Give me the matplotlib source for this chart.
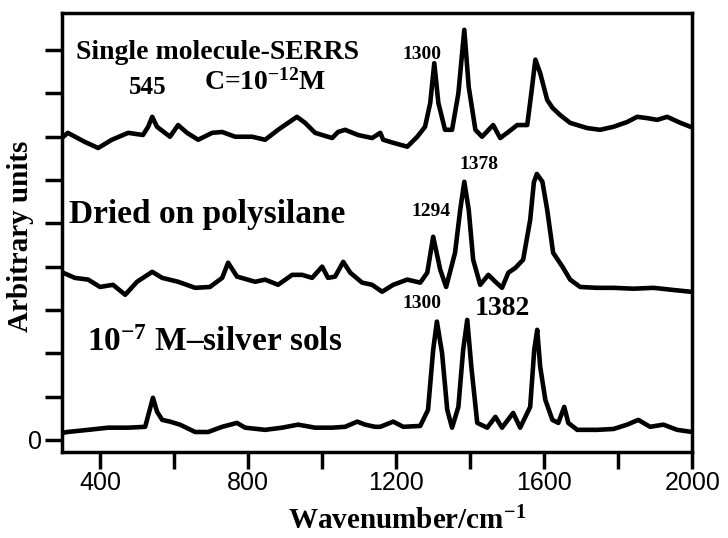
import numpy as np
import matplotlib.pyplot as plt

# Spectra: wavenumber (cm-1) and offset intensity (arb. units)
sm_wn = [297, 313, 359, 395, 432, 476, 516, 530, 541, 554, 589, 611, 635, 665, 703, 730,
         765, 811, 846, 881, 908, 932, 954, 981, 1027, 1043, 1062, 1097, 1135, 1157, 1165,
         1192, 1230, 1257, 1278, 1292, 1303, 1314, 1332, 1351, 1368, 1384, 1396, 1414, 1432,
         1462, 1481, 1500, 1527, 1554, 1565, 1576, 1589, 1608, 1622, 1643, 1670, 1716, 1751,
         1787, 1824, 1851, 1878, 1905, 1932, 1968, 1995]
sm_int = [6.97, 7.09, 6.88, 6.74, 6.93, 7.09, 7.04, 7.23, 7.46, 7.23, 7.00, 7.27, 7.09, 6.93,
          7.09, 7.11, 7.00, 7.00, 6.93, 7.16, 7.32, 7.46, 7.32, 7.09, 6.97, 7.11, 7.16, 7.04,
          6.97, 7.09, 6.93, 6.86, 6.77, 7.00, 7.23, 7.78, 8.70, 7.78, 7.16, 7.16, 8.00, 9.47,
          8.15, 7.16, 7.00, 7.27, 6.97, 7.09, 7.27, 7.27, 8.00, 8.78, 8.47, 7.85, 7.67, 7.50,
          7.32, 7.20, 7.16, 7.23, 7.34, 7.46, 7.43, 7.39, 7.46, 7.32, 7.23]

ps_wn = [300, 332, 368, 400, 435, 468, 500, 541, 568, 611, 657, 697, 730, 746, 770, 819,
         846, 881, 919, 946, 973, 1000, 1016, 1035, 1057, 1076, 1108, 1135, 1162, 1192, 1230,
         1265, 1284, 1300, 1319, 1335, 1359, 1373, 1384, 1396, 1408, 1427, 1449, 1468, 1486,
         1503, 1522, 1543, 1562, 1572, 1580, 1595, 1608, 1624, 1649, 1670, 1697, 1743, 1787,
         1841, 1895, 1949, 1995]
ps_int = [3.86, 3.74, 3.70, 3.53, 3.58, 3.35, 3.65, 3.88, 3.74, 3.65, 3.51, 3.53, 3.74, 4.09,
          3.77, 3.65, 3.70, 3.58, 3.81, 3.81, 3.74, 4.00, 3.74, 3.77, 4.11, 3.86, 3.63, 3.58,
          3.42, 3.58, 3.70, 3.63, 3.86, 4.69, 3.93, 3.53, 4.32, 5.31, 5.96, 5.31, 4.16, 3.58,
          3.81, 3.65, 3.51, 3.86, 3.97, 4.16, 5.08, 5.95, 6.14, 5.96, 5.31, 4.32, 4.00, 3.70,
          3.53, 3.51, 3.51, 3.49, 3.51, 3.46, 3.42]

ag_wn = [300, 311, 368, 422, 476, 522, 532, 543, 554, 568, 589, 616, 657, 692, 730, 770,
         792, 846, 892, 935, 981, 1027, 1062, 1095, 1116, 1143, 1157, 1192, 1219, 1265, 1286,
         1300, 1310, 1324, 1338, 1351, 1368, 1381, 1392, 1403, 1419, 1446, 1468, 1486, 1516,
         1535, 1562, 1573, 1581, 1589, 1603, 1622, 1638, 1654, 1665, 1689, 1743, 1787, 1824,
         1854, 1886, 1922, 1959, 2000]
ag_int = [0.16, 0.18, 0.23, 0.28, 0.28, 0.30, 0.62, 0.97, 0.65, 0.46, 0.42, 0.35, 0.18, 0.18,
          0.30, 0.39, 0.28, 0.23, 0.28, 0.35, 0.28, 0.28, 0.30, 0.42, 0.35, 0.30, 0.30, 0.42,
          0.30, 0.32, 0.69, 2.08, 2.73, 2.00, 0.69, 0.28, 0.76, 2.08, 2.77, 1.69, 0.39, 0.28,
          0.53, 0.28, 0.62, 0.28, 0.76, 2.08, 2.54, 1.69, 0.92, 0.46, 0.39, 0.76, 0.39, 0.23,
          0.23, 0.25, 0.35, 0.46, 0.30, 0.35, 0.23, 0.18]

x_ticks = [400, 600, 800, 1000, 1200, 1400, 1600, 1800, 2000]
x_labels = ['400', '', '800', '', '1200', '', '1600', '', '2000']
y_ticks = list(range(10))
y_labels = ['0'] + [''] * 9

serif = 'Liberation Serif'
plt.rcParams['mathtext.fontset'] = 'custom'
plt.rcParams['mathtext.rm'] = 'Liberation Serif:bold'
plt.rcParams['mathtext.bf'] = 'Liberation Serif:bold'
plt.rcParams['mathtext.it'] = 'Liberation Serif:bold'

fig = plt.figure(figsize=(7.28, 5.38), dpi=100)
ax = fig.add_axes([0.085, 0.160, 0.866, 0.816])

for wn, inten in [(sm_wn, sm_int), (ps_wn, ps_int), (ag_wn, ag_int)]:
    ax.plot(wn, inten, color='black', lw=3.3, solid_joinstyle='round')

ax.set_xlim(297, 2000)
ax.set_ylim(-0.28, 9.86)
ax.set_xticks(x_ticks)
ax.set_xticklabels(x_labels, fontfamily='Liberation Sans', fontsize=18)
ax.set_yticks(y_ticks)
ax.set_yticklabels(y_labels, fontfamily='Liberation Sans', fontsize=18)
ax.tick_params(direction='out', length=12, width=2.5, pad=2)
for sp in ax.spines.values():
    sp.set_linewidth(2.5)

ax.set_xlabel('Wavenumber/cm$^{-1}$', fontfamily=serif, fontweight='bold', fontsize=21)
ax.xaxis.set_label_coords(0.548, -0.125)
ax.set_ylabel('Arbitrary units', fontfamily=serif, fontweight='bold', fontsize=21)
ax.yaxis.set_label_coords(-0.044, 0.49)

txt = dict(fontfamily=serif, fontweight='bold', color='black')
ax.text(336, 8.95, 'Single molecule-SERRS', fontsize=20, va='center', **txt)
ax.text(680, 8.25, 'C=10$^{-12}$M', fontsize=20, va='center', **txt)
ax.text(530, 7.88, '545', fontsize=18, ha='center', va='bottom', **txt)
ax.text(1270, 8.7, '1300', fontsize=14, ha='center', va='bottom', **txt)
ax.text(316, 5.2, 'Dried on polysilane', fontsize=24, va='center', **txt)
ax.text(1424, 6.17, '1378', fontsize=14, ha='center', va='bottom', **txt)
ax.text(1295, 5.08, '1294', fontsize=14, ha='center', va='bottom', **txt)
ax.text(365, 2.25, '10$^{-7}$ M\u2013silver sols', fontsize=24, va='center', **txt)
ax.text(1270, 2.96, '1300', fontsize=14, ha='center', va='bottom', **txt)
ax.text(1486, 2.75, '1382', fontsize=20, ha='center', va='bottom', **txt)

fig.savefig('out.png', dpi=100)
